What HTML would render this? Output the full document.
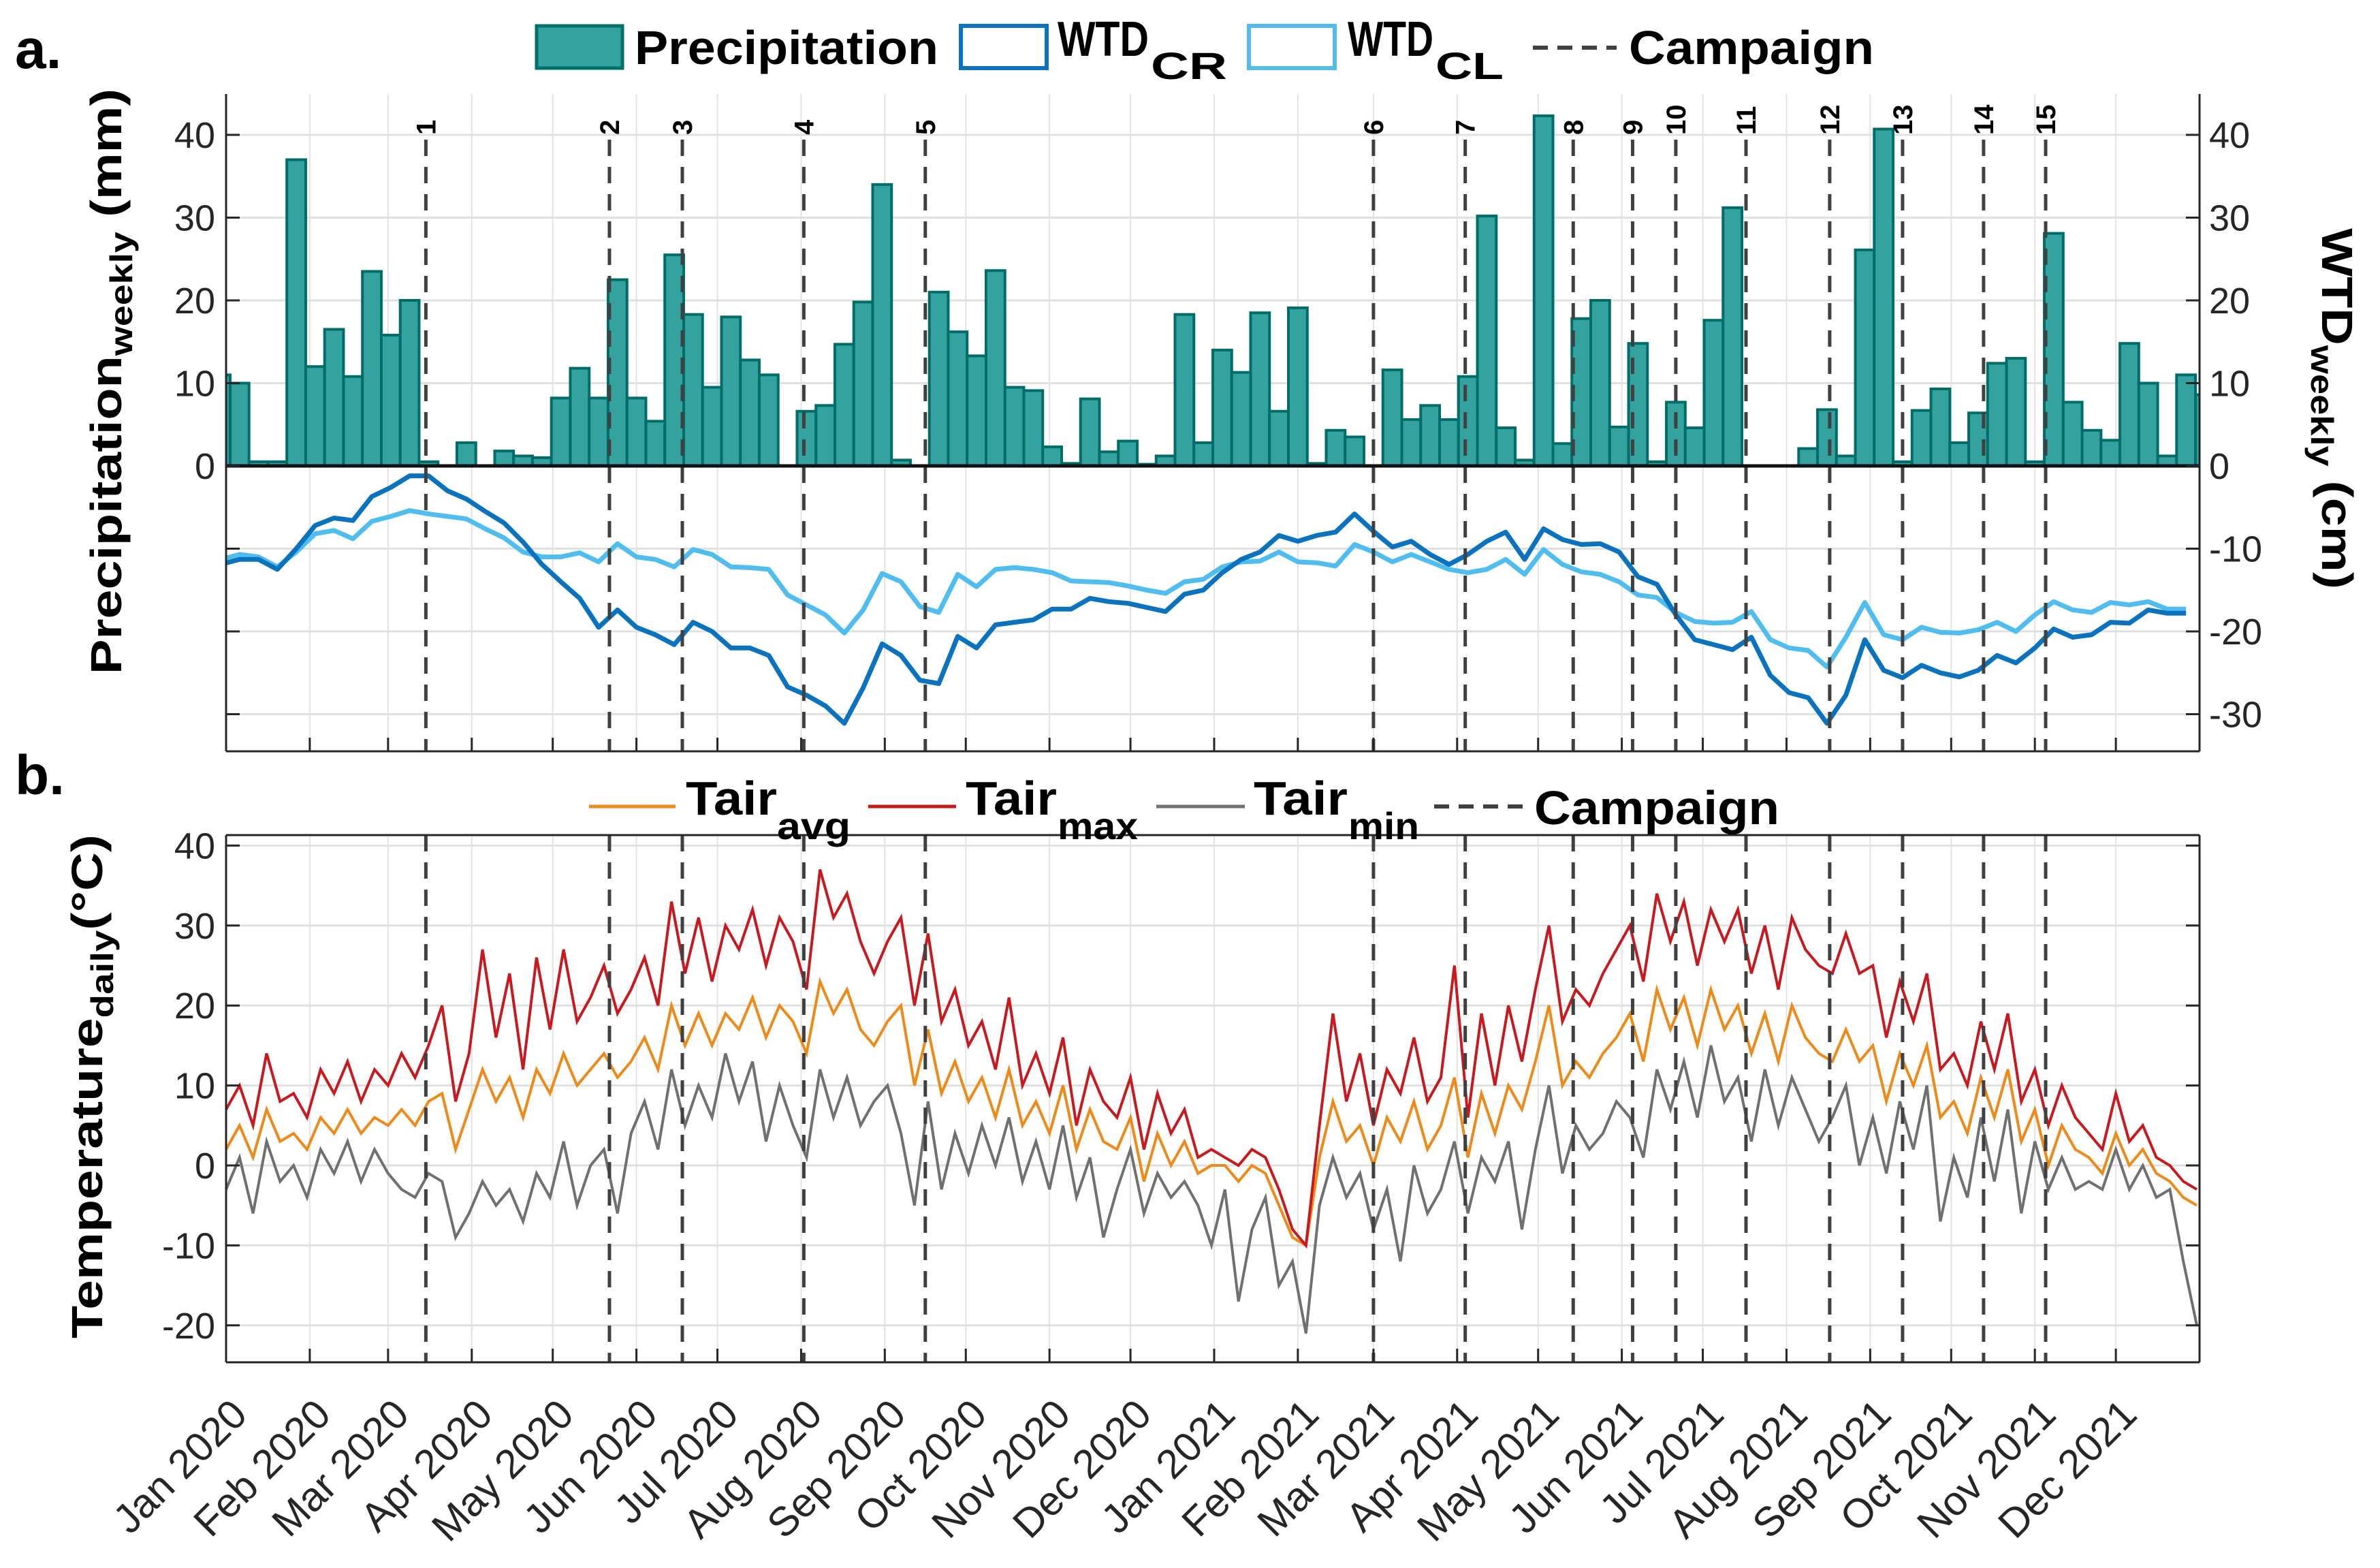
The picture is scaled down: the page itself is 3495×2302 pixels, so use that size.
<!DOCTYPE html>
<html><head><meta charset="utf-8"><style>
html,body{margin:0;padding:0;background:#fff;}
svg{display:block;font-family:"Liberation Sans",sans-serif;}
</style></head><body>
<svg id="chart" width="3495" height="2302" viewBox="0 0 3495 2302" xmlns="http://www.w3.org/2000/svg">
<rect x="0" y="0" width="3495" height="2302" fill="#fff"/>
<g id="gridA"></g>
<g id="gridB"></g>
<g id="bars"></g>
<g id="wtd"></g>
<g id="temps"></g>
<g id="camp"></g>
<g id="axes"></g>
<g id="labels">
  <text x="22" y="100" font-size="82" font-weight="bold">a.</text>
  <text x="22" y="1166" font-size="82" font-weight="bold">b.</text>
  <text transform="translate(178,990) rotate(-90)" font-size="64" font-weight="bold" textLength="860" lengthAdjust="spacingAndGlyphs">Precipitation<tspan font-size="46" dy="16">weekly</tspan><tspan dy="-16"> (mm)</tspan></text>
  <text transform="translate(3410,335) rotate(90)" font-size="64" font-weight="bold" textLength="530" lengthAdjust="spacingAndGlyphs">WTD<tspan font-size="46" dy="16">weekly</tspan><tspan dy="-16"> (cm)</tspan></text>
  <text transform="translate(150,1965) rotate(-90)" font-size="64" font-weight="bold" textLength="740" lengthAdjust="spacingAndGlyphs">Temperature<tspan font-size="46" dy="16">daily</tspan><tspan dy="-16">(°C)</tspan></text>
</g>
<g id="legendA">
  <g>
    <rect x="788" y="38" width="126" height="62" fill="#34a39f" stroke="#00706a" stroke-width="5"/>
    <text x="932" y="94" font-size="70" font-weight="bold" textLength="446" lengthAdjust="spacingAndGlyphs">Precipitation</text>
  </g>
  <g>
    <rect x="1411" y="38" width="126" height="62" fill="none" stroke="#0b72bd" stroke-width="6"/>
    <text x="1553" y="82" font-size="72" font-weight="bold" textLength="134" lengthAdjust="spacingAndGlyphs">WTD</text>
    <text x="1690" y="116" font-size="56" font-weight="bold" textLength="112" lengthAdjust="spacingAndGlyphs">CR</text>
  </g>
  <g>
    <rect x="1834" y="38" width="126" height="62" fill="none" stroke="#4fbdee" stroke-width="6"/>
    <text x="1979" y="82" font-size="72" font-weight="bold" textLength="126" lengthAdjust="spacingAndGlyphs">WTD</text>
    <text x="2108" y="116" font-size="56" font-weight="bold" textLength="100" lengthAdjust="spacingAndGlyphs">CL</text>
  </g>
  <g>
    <line x1="2251" y1="70" x2="2374" y2="70" stroke="#404040" stroke-width="6" stroke-dasharray="22,14"/>
    <text x="2392" y="94" font-size="70" font-weight="bold" textLength="360" lengthAdjust="spacingAndGlyphs">Campaign</text>
  </g>
</g>
<g id="legendB">
  <g>
    <line x1="865" y1="1184" x2="992" y2="1184" stroke="#ee8a1a" stroke-width="5"/>
    <text x="1007" y="1196" font-size="70" font-weight="bold" textLength="134" lengthAdjust="spacingAndGlyphs">Tair</text>
    <text x="1141" y="1232" font-size="56" font-weight="bold" textLength="108" lengthAdjust="spacingAndGlyphs">avg</text>
  </g>
  <g>
    <line x1="1275" y1="1184" x2="1404" y2="1184" stroke="#c81a1e" stroke-width="5"/>
    <text x="1418" y="1196" font-size="70" font-weight="bold" textLength="134" lengthAdjust="spacingAndGlyphs">Tair</text>
    <text x="1553" y="1232" font-size="56" font-weight="bold" textLength="118" lengthAdjust="spacingAndGlyphs">max</text>
  </g>
  <g>
    <line x1="1698" y1="1184" x2="1828" y2="1184" stroke="#707070" stroke-width="5"/>
    <text x="1841" y="1196" font-size="70" font-weight="bold" textLength="138" lengthAdjust="spacingAndGlyphs">Tair</text>
    <text x="1980" y="1232" font-size="56" font-weight="bold" textLength="104" lengthAdjust="spacingAndGlyphs">min</text>
  </g>
  <g>
    <line x1="2106" y1="1184" x2="2236" y2="1184" stroke="#404040" stroke-width="6" stroke-dasharray="22,14"/>
    <text x="2253" y="1210" font-size="70" font-weight="bold" textLength="360" lengthAdjust="spacingAndGlyphs">Campaign</text>
  </g>
</g>
</svg>
<script>
// ---------- data ----------
const precipWeekly = [11,10,0.5,0.5,37,12,16.5,10.8,23.5,15.8,20,0.5,0,2.8,0,1.8,1.2,1,8.2,11.8,8.2,22.5,8.2,5.4,25.5,18.3,9.5,18,12.8,11,0,6.6,7.3,14.7,19.8,34,0.7,0,21,16.2,13.3,23.6,9.5,9.1,2.3,0.3,8.1,1.7,3,0.2,1.2,18.3,2.8,14,11.3,18.5,6.6,19.1,0.3,4.3,3.5,0,11.6,5.6,7.3,5.6,10.8,30.2,4.6,0.7,42.3,2.7,17.8,20,4.7,14.8,0.5,7.7,4.6,17.6,31.2,0,0,0,2.1,6.8,1.2,26.1,40.7,0.5,6.7,9.3,2.8,6.4,12.4,13,0.5,28.1,7.7,4.3,3.1,14.8,10,1.2,11,8.6];
const wtdCR = [-11.9,-11.3,-11.3,-12.5,-10,-7.2,-6.3,-6.6,-3.7,-2.6,-1.2,-1.2,-3,-4,-5.5,-6.9,-9.2,-11.9,-14,-16,-19.5,-17.4,-19.5,-20.4,-21.6,-18.9,-20,-22,-22,-22.9,-26.7,-27.7,-29,-31.1,-26.8,-21.5,-22.9,-25.9,-26.3,-20.6,-22,-19.2,-18.9,-18.6,-17.3,-17.3,-16,-16.4,-16.6,-17.1,-17.6,-15.5,
-15,-12.9,-11.3,-10.4,-8.4,-9.1,-8.4,-8,-5.8,-7.9,-9.8,-9.1,-10.7,-11.9,-10.7,-9.1,-8,-11.3,-7.6,-8.9,-9.5,-9.4,-10.4,-13.4,-14.3,-18,-21,-21.6,-22.2,-20.7,-25.3,-27.4,-28,-31.1,-27.7,-21,-24.7,-25.6,-24.1,-25,-25.5,-24.7,-22.9,-23.8,-22,-19.7,-20.7,-20.4,-18.9,-19,-17.4,-17.8,-17.8];
const wtdCL = [-11.3,-10.7,-11,-12.2,-10.4,-8.2,-7.8,-8.8,-6.7,-6.1,-5.4,-5.8,-6.1,-6.4,-7.6,-8.7,-10.4,-11,-11,-10.5,-11.6,-9.4,-11,-11.3,-12.2,-10.1,-10.7,-12.2,-12.3,-12.5,-15.6,-16.8,-18,-20.2,-17.4,-13,-14,-17,-17.7,-13.1,-14.6,-12.5,-12.3,-12.5,-12.9,-13.9,-14,-14.1,-14.5,-15,-15.4,-14,
-13.7,-12.2,-11.6,-11.5,-10.4,-11.6,-11.7,-12.1,-9.5,-10.4,-11.6,-10.7,-11.6,-12.5,-12.9,-12.5,-11.3,-13.1,-10.1,-11.9,-12.8,-13.1,-14,-15.6,-15.9,-17.7,-18.8,-19,-18.9,-17.6,-21,-22,-22.3,-24.3,-20.7,-16.5,-20.4,-21,-19.5,-20.1,-20.2,-19.8,-18.9,-20,-18,-16.4,-17.4,-17.7,-16.5,-16.8,-16.4,-17.3,-17.3];
const campaignDays = [74,142,169,214,259,425,459,499,521,537,563,594,621,651,674];
const campaignLabels = ["1","2","3","4","5","6","7","8","9","10","11","12","13","14","15"];
const tempStepDays = 5;
const tairMax = [7,10,5,14,8,9, 6,12,9,13,8,12, 10,14,11,15,20,8, 14,27,16,24,12,26, 17,27,18,21,25,19, 22,26,20,33,24,31, 23,30,27,32,25,31, 28,22,37,31,34,28, 24,28,31,20,29,18, 22,15,18,12,21,10, 14,9,16,5,12,8, 6,11,2,9,4,7,
 1,2,1,0,2,1, -3,-8,-10,5,19,8, 14,5,12,9,16,8, 11,25,6,19,10,20, 13,22,30,18,22,20, 24,27,30,23,34,28, 33,25,32,28,32,24, 30,22,31,27,25,24, 29,24,25,16,23,18, 24,12,14,10,18,12, 19,8,12,5,10,6, 4,2,9,3,5,1,0,-2,-3];
const tairAvg = [2,5,1,7,3,4, 2,6,4,7,4,6, 5,7,5,8,9,2, 7,12,8,11,6,12, 9,14,10,12,14,11, 13,16,12,20,15,19, 15,19,17,21,16,20, 18,14,23,19,22,17, 15,18,20,10,17,9, 13,8,11,6,12,5, 8,4,10,2,7,3, 2,6,-2,4,0,3,
 -1,0,0,-2,0,-1, -5,-9,-10,1,8,3, 5,0,6,3,8,2, 5,11,1,9,4,10, 7,13,20,10,13,11, 14,16,19,13,22,17, 21,15,22,17,20,14, 19,13,20,16,14,13, 17,13,15,8,14,10, 15,6,8,4,11,6, 12,3,7,0,5,2, 1,-1,4,0,2,-1,-2,-4,-5];
const tairMin = [-3,1,-6,3,-2,0, -4,2,-1,3,-2,2, -1,-3,-4,-1,-2,-9, -6,-2,-5,-3,-7,-1, -4,3,-5,0,2,-6, 4,8,2,12,5,10, 6,14,8,13,3,10, 5,1,12,6,11,5, 8,10,4,-5,8,-3, 4,-1,5,0,6,-2, 3,-3,5,-4,1,-9, -3,2,-6,-1,-4,-2,
 -5,-10,-3,-17,-8,-4, -15,-12,-21,-5,1,-4, -1,-8,-3,-12,0,-6, -3,3,-6,1,-2,3, -8,2,10,-1,5,2, 4,8,6,1,12,7, 13,6,15,8,11,3, 12,5,11,7,3,6, 10,0,6,-1,8,2, 10,-7,1,-4,6,-2, 7,-6,3,-3,1,-3, -2,-3,2,-3,0,-4,-3,-12,-20];
const monthDays = [0,31,60,91,121,152,182,213,244,274,305,335,366,397,425,456,486,517,547,578,609,639,670,700];
const monthLabels = ["Jan 2020","Feb 2020","Mar 2020","Apr 2020","May 2020","Jun 2020","Jul 2020","Aug 2020","Sep 2020","Oct 2020","Nov 2020","Dec 2020","Jan 2021","Feb 2021","Mar 2021","Apr 2021","May 2021","Jun 2021","Jul 2021","Aug 2021","Sep 2021","Oct 2021","Nov 2021","Dec 2021"];
const precipTicks = [0,10,20,30,40];
const wtdTicks = [40,30,20,10,0,-10,-20,-30];
const tempTicks = [-20,-10,0,10,20,30,40];

// ---------- layout ----------
const NS="http://www.w3.org/2000/svg";
const X0=332, X1=3230, DAYS=731;
const xDay = d => X0 + d*(X1-X0)/DAYS;
const A_TOP=138, A_BOT=1103, A_ZERO=684, A_PX=12.15;
const yA = v => A_ZERO - v*A_PX;
const B_TOP=1226, B_BOT=2000;
const yB = v => 1711 - v*11.74;
const weekStartDay = -5.5;

function mk(tag, attrs, parent){const e=document.createElementNS(NS,tag);for(const k in attrs)e.setAttribute(k,attrs[k]);parent.appendChild(e);return e;}
const G = id => document.getElementById(id);

const defs=mk('defs',{},G('chart'));
const cA=mk('clipPath',{id:'clipA'},defs); mk('rect',{x:X0,y:A_TOP,width:X1-X0,height:A_BOT-A_TOP},cA);
const cB=mk('clipPath',{id:'clipB'},defs); mk('rect',{x:X0,y:B_TOP,width:X1-X0,height:B_BOT-B_TOP},cB);
G('bars').setAttribute('clip-path','url(#clipA)');
G('wtd').setAttribute('clip-path','url(#clipA)');
G('temps').setAttribute('clip-path','url(#clipB)');

monthDays.forEach(d=>{
  const x=xDay(d);
  const l1=mk('line',{x1:x,y1:A_TOP,x2:x,y2:A_BOT,stroke:'#e3e3e3','stroke-width':2},G('gridA'));
  
  
  const l2=mk('line',{x1:x,y1:B_TOP,x2:x,y2:B_BOT,stroke:'#e3e3e3','stroke-width':2},G('gridB'));
  
  
});
wtdTicks.forEach(v=>{
  const l=mk('line',{x1:X0,y1:yA(v),x2:X1,y2:yA(v),stroke:'#e0e0e0','stroke-width':3},G('gridA'));
  
  
});
tempTicks.forEach(v=>{
  const l=mk('line',{x1:X0,y1:yB(v),x2:X1,y2:yB(v),stroke:'#e0e0e0','stroke-width':3},G('gridB'));
  
  
});

precipWeekly.forEach((v,i)=>{
  const x=xDay(weekStartDay+7*i), w=xDay(7)-xDay(0);
  const r=mk('rect',{x:x,y:yA(v),width:w,height:Math.max(0,v*A_PX),fill:'#34a39f',stroke:'#006d68','stroke-width':4},G('bars'));
  
  
});

function wtdPath(arr){return arr.map((v,i)=>(i?'L':'M')+xDay(7*i-2).toFixed(1)+','+yA(v).toFixed(1)).join('');}
const pCL=mk('path',{d:wtdPath(wtdCL),fill:'none',stroke:'#4fbdee','stroke-width':7,'stroke-linejoin':'round'},G('wtd'));


const pCR=mk('path',{d:wtdPath(wtdCR),fill:'none',stroke:'#0b72bd','stroke-width':7,'stroke-linejoin':'round'},G('wtd'));



function tPath(arr){return arr.map((v,i)=>(i?'L':'M')+xDay(i*tempStepDays).toFixed(1)+','+yB(v).toFixed(1)).join('');}
const tMin=mk('path',{d:tPath(tairMin),fill:'none',stroke:'#707070','stroke-width':4},G('temps'));


const tAvg=mk('path',{d:tPath(tairAvg),fill:'none',stroke:'#ee8a1a','stroke-width':4},G('temps'));


const tMax=mk('path',{d:tPath(tairMax),fill:'none',stroke:'#c81a1e','stroke-width':4},G('temps'));



campaignDays.forEach((d,i)=>{
  const x=xDay(d);
  const a=mk('line',{x1:x,y1:205,x2:x,y2:A_BOT,stroke:'#404040','stroke-width':5,'stroke-dasharray':'24,16'},G('camp'));
  
  
  const b=mk('line',{x1:x,y1:B_TOP,x2:x,y2:B_BOT,stroke:'#404040','stroke-width':5,'stroke-dasharray':'24,16'},G('camp'));
  
  
  const t=mk('text',{transform:'translate('+(x+14)+',198) rotate(-90)','font-size':40,'font-weight':'bold'},G('camp'));
  t.textContent=campaignLabels[i];
  
  
});

const ax=G('axes');
[[X0,A_TOP,X0,A_BOT],[X1,A_TOP,X1,A_BOT],[X0,A_BOT,X1,A_BOT],
 [X0,B_TOP,X1,B_TOP],[X0,B_BOT,X1,B_BOT],[X0,B_TOP,X0,B_BOT],[X1,B_TOP,X1,B_BOT]].forEach(s=>{
  const l=mk('line',{x1:s[0],y1:s[1],x2:s[2],y2:s[3],stroke:'#262626','stroke-width':3},ax);
  
  
});
const zl=mk('line',{x1:X0,y1:A_ZERO,x2:X1,y2:A_ZERO,stroke:'#111','stroke-width':5},ax);


precipTicks.forEach(v=>{
  const t=mk('text',{x:X0-16,y:yA(v)+19,'font-size':54,'text-anchor':'end',fill:'#262626'},ax);
  t.textContent=v;
  
  
});
wtdTicks.forEach(v=>{
  mk('line',{x1:X0,y1:yA(v),x2:X0+20,y2:yA(v),stroke:'#262626','stroke-width':3},ax);
  mk('line',{x1:X1,y1:yA(v),x2:X1-20,y2:yA(v),stroke:'#262626','stroke-width':3},ax);
  const t=mk('text',{x:X1+14,y:yA(v)+19,'font-size':54,fill:'#262626'},ax);
  t.textContent=v;
  
  
});
tempTicks.forEach(v=>{
  mk('line',{x1:X0,y1:yB(v),x2:X0+20,y2:yB(v),stroke:'#262626','stroke-width':3},ax);
  mk('line',{x1:X1,y1:yB(v),x2:X1-20,y2:yB(v),stroke:'#262626','stroke-width':3},ax);
  const t=mk('text',{x:X0-16,y:yB(v)+19,'font-size':54,'text-anchor':'end',fill:'#262626'},ax);
  t.textContent=v;
  
  
});
monthDays.forEach((d,i)=>{
  const x=xDay(d);
  mk('line',{x1:x,y1:A_BOT,x2:x,y2:A_BOT-20,stroke:'#262626','stroke-width':3},ax);
  mk('line',{x1:x,y1:B_BOT,x2:x,y2:B_BOT-20,stroke:'#262626','stroke-width':3},ax);
  const t=mk('text',{transform:'translate('+(x+34)+',2080) rotate(-45)','font-size':60,'text-anchor':'end',fill:'#262626'},ax);
  t.textContent=monthLabels[i];
  
  
});
</script>
</body></html>
